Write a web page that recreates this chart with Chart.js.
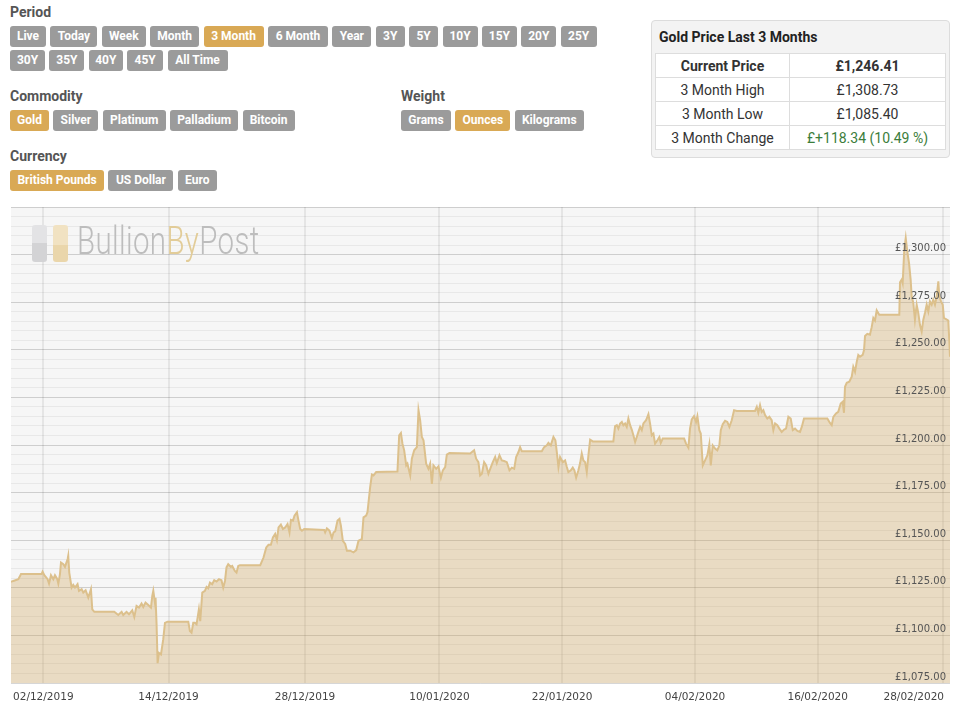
<!DOCTYPE html>
<html>
<head>
<meta charset="utf-8">
<script src="https://cdn.jsdelivr.net/npm/chart.js@4.4.1/dist/chart.umd.min.js"></script>
<style>
  body { margin: 0; width: 964px; height: 708px; background: #fff; font-family: Roboto, "Open Sans", sans-serif; position: relative; overflow: hidden; }
  .heading { position: absolute; font-weight: bold; font-size: 14px; color: #555; line-height: 16px; }
  .row { position: absolute; display: flex; gap: 4.4px; }
  .btn { background: #9b9b9b; color: #fff; font-weight: bold; font-size: 12px; height: 20.5px; line-height: 20.5px; text-align: center; border-radius: 3px; }
  .btn.on { background: #d9a955; }
  #stats { position: absolute; left: 651px; top: 20px; width: 297px; height: 136px; background: #f3f3f3; border: 1px solid #dcdcdc; border-radius: 4px; }
  #stats h3 { margin: 0; position: absolute; left: 7px; top: 8px; font-size: 14px; color: #222; }
  #stats table { position: absolute; left: 3px; top: 32px; width: 290px; border-collapse: collapse; background: #fff; font-size: 14px; color: #333; table-layout: fixed; }
  #stats td { border: 1px solid #ddd; height: 23px; padding: 0; text-align: center; }
  #stats td.up { color: #3b7d3b; }
  #chartWrap { position: absolute; left: 0; top: 200px; width: 964px; height: 508px; }
  #logo { position: absolute; left: 32px; top: 225px; height: 38px; }
  .bar { position: absolute; top: 0; width: 15px; height: 37px; border-radius: 3px; }
  #logoText { position: absolute; left: 45px; top: -7px; font-size: 39px; font-weight: 300; white-space: nowrap; transform: scaleX(0.755); transform-origin: left top; color: #bdbdbd; letter-spacing: 0.5px; }
</style>
</head>
<body>
<div class="heading" style="left:10px;top:4px">Period</div>
<div class="row" id="periodRow1" style="left:10px;top:26px"></div>
<div class="row" id="periodRow2" style="left:10px;top:50px"></div>
<div class="heading" style="left:10px;top:88px">Commodity</div>
<div class="row" id="commodityRow" style="left:10px;top:110px"></div>
<div class="heading" style="left:401px;top:88px">Weight</div>
<div class="row" id="weightRow" style="left:401px;top:110px"></div>
<div class="heading" style="left:10px;top:148px">Currency</div>
<div class="row" id="currencyRow" style="left:10px;top:170px"></div>

<div id="stats">
  <h3>Gold Price Last 3 Months</h3>
  <table>
    <colgroup><col style="width:134px"><col style="width:156px"></colgroup>
    <tr><td><b>Current Price</b></td><td><b>£1,246.41</b></td></tr>
    <tr><td>3 Month High</td><td>£1,308.73</td></tr>
    <tr><td>3 Month Low</td><td>£1,085.40</td></tr>
    <tr><td>3 Month Change</td><td class="up">£+118.34 (10.49 %)</td></tr>
  </table>
</div>

<div id="chartWrap"><canvas id="goldChart"></canvas></div>

<div id="logo">
  <div class="bar" style="left:0;background:linear-gradient(#e3e3e5 0 50%, #d3d3d5 50% 100%)"></div>
  <div class="bar" style="left:21px;background:linear-gradient(#f1e2c2 0 55%, #ead6ab 55% 100%)"></div>
  <div id="logoText">Bullion<span style="color:#e2cc98">By</span>Post</div>
</div>

<script>
// Botões do topo: [texto, largura, ativo]
const periodButtons1 = [['Live', 36], ['Today', 47], ['Week', 44], ['Month', 49], ['3 Month', 60, true], ['6 Month', 60], ['Year', 39], ['3Y', 29], ['5Y', 29], ['10Y', 35], ['15Y', 35], ['20Y', 35], ['25Y', 36]];
const periodButtons2 = [['30Y', 35], ['35Y', 35], ['40Y', 34], ['45Y', 36], ['All Time', 60]];
const commodityButtons = [['Gold', 39, true], ['Silver', 45], ['Platinum', 63], ['Palladium', 68], ['Bitcoin', 52]];
const weightButtons = [['Grams', 50], ['Ounces', 55, true], ['Kilograms', 69]];
const currencyButtons = [['British Pounds', 94, true], ['US Dollar', 65], ['Euro', 39]];

// Dias a partir de 02/12/2019 e preço do ouro (GBP/oz)
const days = [
  -3.16, -2.93, -2.44, -2.18, -0.17, -0.07, 0.10, 0.42, 0.56, 0.75,
  0.98, 1.14, 1.37, 1.47, 1.63, 1.73, 1.96, 2.12, 2.38, 2.44,
  2.54, 2.77, 2.93, 3.10, 3.35, 3.49, 3.75, 3.91, 4.14, 4.40,
  4.66, 4.79, 4.99, 6.94, 7.33, 7.66, 7.82, 8.14, 8.38, 8.70,
  8.90, 9.12, 9.36, 9.61, 9.78, 10.00, 10.27, 10.53, 10.66, 10.76,
  10.92, 10.98, 11.08, 11.18, 11.31, 11.51, 11.73, 11.90, 12.15, 14.18,
  14.34, 14.50, 14.67, 14.83, 14.99, 15.22, 15.35, 15.55, 15.81, 15.97,
  16.13, 16.30, 16.52, 16.72, 16.95, 17.18, 17.43, 17.60, 17.77, 17.92,
  18.09, 18.35, 18.48, 18.74, 18.90, 19.07, 19.23, 21.22, 21.54, 21.81,
  22.03, 22.26, 22.46, 22.68, 22.85, 23.01, 23.24, 23.44, 23.66, 23.89,
  24.08, 24.22, 24.42, 24.57, 24.81, 24.96, 25.13, 25.30, 25.52, 27.48,
  27.57, 27.74, 27.99, 28.23, 28.39, 28.55, 28.78, 28.97, 29.11, 29.30,
  29.53, 29.70, 30.02, 30.34, 30.61, 30.83, 31.16, 31.32, 31.58, 31.71,
  31.97, 32.14, 32.30, 32.56, 34.64, 34.81, 34.98, 35.13, 35.30, 35.50,
  35.62, 35.89, 36.05, 36.28, 36.54, 36.70, 36.86, 37.03, 37.19, 37.45,
  37.67, 37.84, 38.01, 38.16, 38.43, 38.65, 38.89, 39.08, 39.31, 39.47,
  39.73, 41.75, 42.14, 42.34, 42.56, 42.73, 42.90, 43.12, 43.32, 43.54,
  43.78, 43.97, 44.20, 44.36, 44.62, 44.85, 45.08, 45.34, 45.60, 45.83,
  46.06, 46.25, 46.48, 46.64, 46.81, 48.76, 48.99, 49.25, 49.41, 49.64,
  49.90, 50.09, 50.23, 50.39, 50.55, 50.82, 51.04, 51.21, 51.36, 51.60,
  51.79, 51.95, 52.12, 52.34, 52.51, 52.67, 52.83, 53.00, 53.16, 53.32,
  53.49, 53.75, 55.76, 55.93, 56.10, 56.25, 56.42, 56.59, 56.74, 56.91,
  57.07, 57.23, 57.40, 57.56, 57.72, 57.89, 58.05, 58.21, 58.38, 58.54,
  58.70, 58.96, 59.19, 59.35, 59.52, 59.68, 59.84, 60.07, 60.26, 60.40,
  60.59, 62.68, 62.87, 63.10, 63.26, 63.43, 63.65, 63.85, 63.98, 64.17,
  64.31, 64.51, 64.73, 64.96, 65.15, 65.29, 65.48, 65.71, 65.93, 66.13,
  66.27, 66.46, 66.69, 66.91, 67.11, 67.34, 67.57, 67.83, 69.62, 69.79,
  69.94, 70.11, 70.27, 70.43, 70.60, 70.82, 71.02, 71.25, 71.41, 71.58,
  71.80, 72.00, 72.23, 72.46, 72.65, 72.88, 73.11, 73.31, 73.53, 73.76,
  74.02, 74.19, 74.41, 76.69, 76.95, 77.12, 77.28, 77.54, 77.76, 78.00,
  78.19, 78.32, 78.42, 78.59, 78.84, 79.08, 79.23, 79.40, 79.57, 79.72,
  79.89, 80.15, 80.28, 80.38, 80.60, 80.86, 81.03, 81.19, 81.35, 81.52,
  81.77, 83.73, 83.80, 83.97, 84.06, 84.22, 84.36, 84.51, 84.68, 84.84,
  84.94, 85.10, 85.26, 85.43, 85.59, 85.75, 85.92, 86.08, 86.24, 86.41,
  86.57, 86.73, 86.90, 87.05, 87.22, 87.39, 87.55, 87.64, 87.81, 87.98,
  88.10, 88.30, 88.52, 88.62, 88.69
];
const prices = [
  1128.1, 1128.6, 1129.5, 1132.2, 1132.2, 1133.5, 1131.6, 1129.5, 1127.2, 1131.6,
  1129.5, 1131.6, 1129.5, 1127.2, 1132.2, 1138.3, 1137.4, 1136.0, 1140.1, 1141.8,
  1133.0, 1125.1, 1126.5, 1125.1, 1126.9, 1123.4, 1124.3, 1122.5, 1123.7, 1119.8,
  1124.3, 1113.7, 1112.4, 1112.4, 1110.7, 1112.4, 1110.7, 1112.4, 1111.1, 1113.2,
  1109.7, 1115.5, 1114.6, 1116.7, 1114.9, 1117.2, 1116.0, 1114.6, 1120.7, 1123.4,
  1117.2, 1119.8, 1105.8, 1085.4, 1090.8, 1090.0, 1097.9, 1106.6, 1107.2, 1107.2,
  1102.3, 1101.4, 1106.6, 1106.6, 1105.8, 1113.7, 1107.5, 1122.5, 1123.4, 1125.5,
  1124.8, 1127.7, 1126.9, 1129.0, 1128.3, 1129.5, 1129.0, 1125.1, 1128.6, 1135.7,
  1137.4, 1136.0, 1136.5, 1133.9, 1133.0, 1136.5, 1136.9, 1136.9, 1140.9, 1146.2,
  1147.6, 1147.6, 1151.5, 1153.3, 1150.1, 1156.7, 1158.2, 1155.9, 1156.7, 1158.5,
  1154.1, 1160.7, 1160.3, 1162.9, 1164.7, 1160.3, 1155.9, 1155.0, 1155.9, 1155.4,
  1154.1, 1156.2, 1155.0, 1151.2, 1154.1, 1154.6, 1160.3, 1161.2, 1157.6, 1149.7,
  1148.0, 1144.5, 1144.5, 1143.6, 1144.8, 1149.7, 1150.6, 1162.0, 1162.9, 1164.7,
  1177.8, 1184.5, 1184.0, 1185.8, 1186.1, 1205.1, 1206.3, 1200.7, 1197.2, 1189.3,
  1190.2, 1184.0, 1192.8, 1197.2, 1198.9, 1218.3, 1213.0, 1204.2, 1202.5, 1190.2,
  1187.5, 1190.2, 1179.6, 1189.3, 1187.5, 1188.8, 1182.8, 1186.7, 1188.4, 1194.9,
  1195.8, 1195.5, 1197.2, 1192.8, 1191.0, 1184.0, 1184.9, 1191.0, 1189.3, 1184.9,
  1188.4, 1191.0, 1193.7, 1190.5, 1194.6, 1191.9, 1191.6, 1191.0, 1186.7, 1188.1,
  1187.5, 1193.7, 1196.3, 1198.9, 1196.7, 1196.7, 1198.9, 1199.8, 1201.1, 1199.8,
  1204.2, 1202.5, 1196.3, 1188.4, 1193.7, 1191.0, 1191.9, 1188.4, 1185.8, 1186.7,
  1188.1, 1186.7, 1182.8, 1186.7, 1190.5, 1195.5, 1191.9, 1191.0, 1185.8, 1194.6,
  1202.8, 1201.9, 1201.9, 1209.9, 1210.4, 1208.6, 1211.3, 1212.1, 1210.4, 1211.3,
  1209.5, 1213.9, 1210.4, 1208.1, 1205.1, 1201.6, 1204.2, 1206.9, 1209.5, 1207.8,
  1211.3, 1213.0, 1216.2, 1211.3, 1205.1, 1206.0, 1200.7, 1202.5, 1204.2, 1201.1,
  1203.4, 1203.4, 1200.7, 1198.6, 1208.6, 1213.4, 1215.1, 1212.1, 1215.1, 1207.8,
  1206.0, 1189.3, 1191.9, 1194.6, 1200.4, 1189.3, 1199.8, 1198.1, 1197.2, 1199.8,
  1207.8, 1210.9, 1212.7, 1212.1, 1209.5, 1213.0, 1218.3, 1217.9, 1217.9, 1220.0,
  1216.9, 1220.9, 1217.4, 1218.3, 1215.7, 1213.9, 1214.8, 1213.0, 1207.8, 1211.3,
  1210.4, 1208.6, 1206.9, 1208.1, 1208.6, 1214.8, 1213.9, 1207.8, 1208.6, 1207.4,
  1206.9, 1209.5, 1213.9, 1213.9, 1211.6, 1210.4, 1214.8, 1216.6, 1217.4, 1221.8,
  1222.7, 1216.9, 1230.6, 1232.7, 1233.2, 1235.9, 1241.1, 1238.5, 1243.8, 1247.3,
  1246.4, 1247.3, 1249.9, 1257.3, 1258.4, 1257.9, 1261.9, 1266.7, 1265.4, 1270.7,
  1268.4, 1268.4, 1285.4, 1286.9, 1285.1, 1302.7, 1308.7, 1301.8, 1295.7, 1286.9,
  1278.1, 1274.6, 1265.8, 1273.7, 1269.3, 1263.1, 1259.6, 1265.8, 1269.3, 1273.7,
  1270.1, 1275.4, 1273.7, 1276.3, 1273.7, 1278.1, 1286.0, 1278.1, 1275.4, 1273.7,
  1266.7, 1266.1, 1265.4, 1255.2, 1246.4
];

// Eixo X: posições (dias) e rótulos
const tickDays = [0, 12.25, 25.6, 38.75, 50.75, 63.75, 75.75, 88];
const tickLabels = ['02/12/2019', '14/12/2019', '28/12/2019', '10/01/2020', '22/01/2020', '04/02/2020', '16/02/2020', '28/02/2020'];

// Eixo Y
const yMin = 1075;
const yMax = 1325;
const yStep = 5;
const yLabelStep = 25;

function fillRow(id, buttons) {
    const row = document.getElementById(id);
    buttons.forEach(b => {
        const div = document.createElement('div');
        div.className = 'btn' + (b[2] ? ' on' : '');
        div.style.width = b[1] + 'px';
        div.textContent = b[0];
        row.appendChild(div);
    });
}
fillRow('periodRow1', periodButtons1);
fillRow('periodRow2', periodButtons2);
fillRow('commodityRow', commodityButtons);
fillRow('weightRow', weightButtons);
fillRow('currencyRow', currencyButtons);

// Fundo cinza da área do gráfico
const plotBackground = {
    id: 'plotBackground',
    beforeDraw(chart) {
        const { ctx, chartArea: a } = chart;
        ctx.save();
        ctx.fillStyle = '#f6f6f6';
        ctx.fillRect(a.left, a.top, a.right - a.left, a.bottom - a.top);
        ctx.restore();
    }
};

// Rótulos do eixo X (o último fica dentro do canvas)
const xLabels = {
    id: 'xLabels',
    afterDraw(chart) {
        const { ctx, chartArea: a } = chart;
        const xs = chart.scales.x;
        ctx.save();
        ctx.font = '10.5px "DejaVu Sans"';
        ctx.fillStyle = '#444';
        ctx.textAlign = 'center';
        ctx.textBaseline = 'middle';
        tickDays.forEach((d, i) => {
            const w = ctx.measureText(tickLabels[i]).width;
            let x = xs.getPixelForValue(d);
            x = Math.min(x, a.right - 6 - w / 2);
            x = Math.max(x, a.left + w / 2);
            ctx.fillText(tickLabels[i], x, a.bottom + 14);
        });
        ctx.restore();
    }
};

const ctx = document.getElementById('goldChart').getContext('2d');
new Chart(ctx, {
    type: 'line',
    data: {
        datasets: [{
            data: days.map((d, i) => ({ x: d, y: prices[i] })),
            borderColor: '#dcc08c',
            borderWidth: 2,
            backgroundColor: 'rgba(205, 165, 90, 0.33)',
            fill: 'start',
            pointRadius: 0,
            tension: 0
        }]
    },
    options: {
        responsive: true,
        maintainAspectRatio: false,
        animation: false,
        layout: { padding: { left: 11, right: 14, top: 7, bottom: 25 } },
        scales: {
            x: {
                type: 'linear',
                min: days[0],
                max: days[days.length - 1],
                afterBuildTicks: scale => { scale.ticks = tickDays.map(v => ({ value: v })); },
                border: { display: false },
                grid: { drawTicks: false, color: 'rgba(0, 0, 0, 0.065)', lineWidth: 2 },
                ticks: { display: false }
            },
            y: {
                position: 'right',
                min: yMin,
                max: yMax,
                border: { display: false },
                // rótulos dentro da área, sem ocupar largura
                afterFit: scale => {
                    scale.width = 0;
                    scale.paddingTop = 0;
                    scale.paddingBottom = 0;
                },
                grid: {
                    drawTicks: false,
                    lineWidth: 1,
                    color: c => (c.tick && c.tick.value % yLabelStep === 0) ? 'rgba(0, 0, 0, 0.16)' : 'rgba(0, 0, 0, 0.055)'
                },
                ticks: {
                    stepSize: yStep,
                    maxTicksLimit: 100,
                    autoSkip: false,
                    mirror: true,
                    padding: -4,
                    labelOffset: -6,
                    z: 1,
                    color: '#555',
                    font: { family: 'DejaVu Sans', size: 10 },
                    callback: v => (v % yLabelStep === 0 && v < yMax)
                        ? '£' + v.toLocaleString('en-GB', { minimumFractionDigits: 2, maximumFractionDigits: 2 })
                        : ''
                }
            }
        },
        plugins: {
            legend: { display: false },
            tooltip: { enabled: false }
        }
    },
    plugins: [plotBackground, xLabels]
});
</script>
</body>
</html>
